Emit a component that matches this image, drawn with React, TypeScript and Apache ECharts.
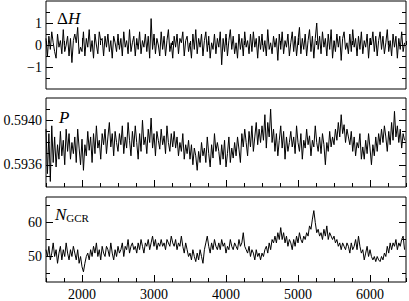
import React, { useEffect, useRef } from 'react';
import * as echarts from 'echarts';

const dayStart = 1500;
const dayStep = 20;

const deltaH = [
  0.3, -0.5, 0.4, -0.2, 0.6, 0.1, -0.3, -0.6, 0.5, -0.1,
  0.2, -0.4, 0.7, -0.3, 0.0, 0.4, -0.5, 0.3, -0.8, 0.2,
  0.5, 0.1, 0.8, -0.4, -0.1, -0.3, 0.6, -0.5, 0.3, -0.1,
  0.7, -0.3, 0.2, -0.6, 0.5, 0.0, -0.4, 0.6, 0.2, 0.3,
  -0.5, 0.4, -0.1, 0.5, -0.3, 0.2, -0.6, 0.4, 0.1, -0.3,
  0.5, -0.2, 0.3, -0.5, 0.6, -0.1, 0.2, -0.4, 0.7, -0.3,
  0.1, 0.4, -0.5, 0.3, -0.2, 0.6, -0.4, 0.2, -0.1, 0.5,
  -0.3, 0.4, -0.6, 1.2, -0.2, 0.5, -0.4, 0.3, 0.0, -0.5,
  0.6, -0.2, 0.4, -0.5, 0.2, 0.7, -0.3, 0.1, -0.6, 0.4,
  -0.1, 0.5, -0.4, 0.3, 0.1, 0.6, -0.5, 0.2, 0.4, -0.3,
  0.1, -0.6, 0.5, -0.2, 0.7, -0.4, 0.3, -0.1, 0.5, -0.5,
  0.2, 0.6, -0.3, 0.4, -0.6, 0.1, -0.2, 0.5, -0.4, 0.3,
  -0.1, 0.6, -0.9, 0.3, -0.3, 0.5, -0.5, 0.2, 0.7, -0.2,
  0.4, -0.4, 0.1, -0.6, 0.5, -0.2, 0.3, -0.5, 0.6, -0.1,
  0.2, -0.4, 0.5, -0.3, 0.6, -0.1, 0.3, -0.6, 0.4, -0.2,
  0.5, -0.3, 0.2, -0.5, 0.7, -0.2, 0.1, -0.4, 0.4, -0.1,
  0.3, -0.7, 0.5, -0.2, 0.6, -0.4, 0.2, -0.1, 0.5, -0.5,
  0.1, 0.6, -0.3, 0.4, -0.5, 0.2, 0.8, -0.4, 0.3, -0.2,
  0.5, -0.5, 0.2, 0.7, -0.3, 0.4, -0.6, 0.3, 1.0, -0.2,
  0.4, -0.4, 0.6, -0.1, 0.3, -0.5, 0.5, -0.2, 0.7, -0.6,
  0.2, -0.3, 0.5, -0.1, 0.4, -0.7, 0.3, 0.6, -0.2, 0.1,
  -0.4, 0.5, -0.3, 0.7, -0.1, 0.3, -0.5, 0.4, -0.2, 0.6,
  -0.4, 0.2, -0.1, 0.5, -0.6, 0.3, 0.0, 0.6, -0.3, 0.4,
  -0.5, 0.2, 0.6, -0.2, 0.4, -0.4, 0.1, 0.7, -0.3, 0.2,
  -0.5, 0.5, -0.1, 0.4, -0.6, 0.3, -0.2, 0.6, -0.3, 0.1,
];

const pValues = [
  0.59392, 0.59352, 0.59388, 0.59345, 0.59395, 0.59362, 0.59385, 0.59358, 0.59378, 0.59365,
  0.5939, 0.59368, 0.59382, 0.5936, 0.59392, 0.59372, 0.59388, 0.59365, 0.5938, 0.5937,
  0.59385, 0.59362, 0.59392, 0.59375, 0.5936, 0.59383, 0.59355, 0.59378, 0.59368, 0.5939,
  0.59373, 0.59385, 0.59362, 0.59388, 0.5937, 0.59395, 0.59375, 0.59382, 0.59365, 0.59388,
  0.59378, 0.59392, 0.5937, 0.59385, 0.59398, 0.59376, 0.59388, 0.59368, 0.5939, 0.5938,
  0.59372, 0.59388, 0.59378, 0.59395, 0.5937, 0.59385, 0.59375, 0.59398, 0.59382, 0.59368,
  0.5939, 0.59376, 0.59395, 0.5938, 0.59365, 0.59388, 0.59372, 0.594, 0.59378, 0.59385,
  0.5937, 0.59392, 0.5938, 0.59402, 0.59375, 0.59388, 0.59368, 0.5939, 0.59382, 0.59374,
  0.59392, 0.59378, 0.59386, 0.5937, 0.59395, 0.5938, 0.59372, 0.59388, 0.59376, 0.5939,
  0.59375, 0.59385, 0.59368, 0.5938, 0.59372, 0.59388, 0.59365, 0.59378, 0.5937, 0.59382,
  0.59365, 0.59378, 0.5936, 0.59375, 0.59368, 0.59355, 0.59372, 0.59362, 0.5938, 0.59368,
  0.59375, 0.59362, 0.59385, 0.5937, 0.59358, 0.59378, 0.59366, 0.59388, 0.59372, 0.5938,
  0.59372, 0.5936, 0.59378, 0.59365, 0.59382, 0.59358, 0.5937, 0.59385, 0.59362, 0.59375,
  0.59366, 0.5938, 0.59368, 0.59385, 0.59374, 0.59362, 0.59388, 0.59376, 0.59392, 0.5938,
  0.59368, 0.5939, 0.59376, 0.59395, 0.59372, 0.59385, 0.59398, 0.59378, 0.59392, 0.5938,
  0.59395, 0.59382, 0.59405, 0.59375, 0.59398, 0.59385, 0.5941, 0.5938, 0.59392, 0.59372,
  0.59388, 0.59368, 0.59382, 0.59395, 0.59375, 0.5939, 0.59365, 0.59385, 0.59372, 0.5938,
  0.5939, 0.59376, 0.59385, 0.5937, 0.59395, 0.5938, 0.59372, 0.59388, 0.59365, 0.59382,
  0.59375, 0.59392, 0.59378, 0.59386, 0.59368, 0.59382, 0.59376, 0.59395, 0.5938, 0.59372,
  0.59385, 0.5937, 0.59388, 0.59378, 0.5936, 0.5938, 0.59372, 0.5939, 0.59376, 0.59385,
  0.59378, 0.59392, 0.59382, 0.59398, 0.59385, 0.59405, 0.59388, 0.59396, 0.5938, 0.59392,
  0.59385, 0.59378, 0.5939, 0.59372, 0.59385, 0.59368, 0.5938, 0.59375, 0.59388, 0.59365,
  0.59376, 0.59365, 0.59382, 0.5937, 0.59388, 0.59375, 0.5936, 0.59378, 0.59368, 0.59385,
  0.59372, 0.59388, 0.59378, 0.59392, 0.5938, 0.59395, 0.59385, 0.59372, 0.5939, 0.59378,
  0.59398, 0.59382, 0.59408, 0.59385, 0.59395, 0.5938, 0.59392, 0.59375, 0.59388, 0.59382,
];

const nGcr = [
  52, 50, 53, 49, 51, 54, 50, 52, 48, 51,
  53, 49, 52, 50, 54, 51, 49, 52, 50, 53,
  51, 49, 52, 48, 50, 47, 45.5, 48, 50, 51,
  49, 52, 50, 53, 51, 54, 50, 52, 49, 53,
  51, 50, 53, 52, 50, 54, 51, 49, 52, 50,
  53, 51, 52, 54, 50, 53, 52, 55, 51, 53,
  54, 52, 53, 51, 54, 52, 55, 53, 51, 54,
  53, 55, 52, 54, 56, 53, 55, 52, 54, 53,
  55, 53, 54, 52, 55, 54, 53, 56, 54, 53,
  55, 52, 54, 53, 56, 53, 51, 54, 52, 50,
  51, 49, 52, 50, 48.5, 51, 49, 52, 50, 48,
  52, 54, 56, 53, 51, 54, 52, 55, 53, 52,
  54, 52, 55, 53, 54, 51, 53, 52, 55, 53,
  52, 54, 53, 52, 55, 53, 54, 57, 53, 52,
  51, 53, 50, 52, 51, 49, 52, 50, 51, 49,
  51, 50, 52, 53, 51, 54, 52, 55, 54, 56,
  54, 57, 55, 58.5, 55, 57, 54, 56, 53, 55,
  54, 52, 55, 53, 56, 54, 57, 55, 54, 56,
  55, 57, 56, 59, 58, 61, 63.5, 60, 57, 58,
  56, 57, 55, 58, 56, 59, 55, 57, 56, 55,
  56, 54, 55, 53, 54, 52, 54, 53, 52, 54,
  53, 51, 54, 52, 53, 55, 52, 56, 53, 51,
  52, 49, 51, 53, 50, 52, 50, 49, 50, 48.5,
  50, 49, 48.5, 50, 49, 51, 50, 53, 51, 54,
  52, 54, 53, 55, 52, 54, 53, 55, 56, 52,
];

const xMajorTicks = [2000, 3000, 4000, 5000, 6000];
const xMinorTicks = [
  1500, 1750, 2000, 2250, 2500, 2750, 3000, 3250, 3500, 3750, 4000,
  4250, 4500, 4750, 5000, 5250, 5500, 5750, 6000, 6250, 6500,
];
const hMajor = [-1, 0, 1];
const hMinor = [-1.5, -0.5, 0.5, 1.5];
const pMajor = [0.5936, 0.594];
const pMinor = [0.5935, 0.5937, 0.5938, 0.5939, 0.5941];
const nMajor = [50, 60];
const nMinor = [45, 55, 65];

const FONT = 'Liberation Serif';

export default function App() {
  const ref = useRef<HTMLDivElement>(null);
  useEffect(() => {
    if (!ref.current) return;
    const chart = echarts.init(ref.current, undefined, { renderer: 'svg' });

    const grids = [
      { left: 46, right: 3, top: 1, height: 88 },
      { left: 46, right: 3, top: 98, height: 89 },
      { left: 46, right: 3, top: 197, height: 89 },
    ].map((g) => ({ ...g, show: true, borderColor: '#000', borderWidth: 1, backgroundColor: 'transparent' }));

    const xAxes: any[] = [];
    for (let i = 0; i < 3; i++) {
      xAxes.push({
        type: 'value', gridIndex: i, min: 1500, max: 6500, position: 'bottom',
        axisLine: { show: false }, splitLine: { show: false },
        axisTick: { show: true, inside: true, length: 7, customValues: xMajorTicks, lineStyle: { color: '#000', width: 1 } },
        axisLabel: {
          show: i === 2, customValues: xMajorTicks, margin: 5,
          fontFamily: FONT, fontSize: 14, color: '#000',
          formatter: (v: number) => String(v),
        },
      });
      xAxes.push({
        type: 'value', gridIndex: i, min: 1500, max: 6500, position: 'bottom',
        axisLine: { show: false }, splitLine: { show: false },
        axisTick: { show: true, inside: true, length: 4, customValues: xMinorTicks, lineStyle: { color: '#000', width: 1 } },
        axisLabel: { show: false },
      });
    }

    const yDefs = [
      { min: -2, max: 2, major: hMajor, minor: hMinor, fmt: (v: number) => (v < 0 ? '\u2212' + Math.abs(v) : String(v)) },
      { min: 0.5934, max: 0.5942, major: pMajor, minor: pMinor, fmt: (v: number) => v.toFixed(4) },
      { min: 42.5, max: 67.5, major: nMajor, minor: nMinor, fmt: (v: number) => String(v) },
    ];
    const yAxes: any[] = [];
    yDefs.forEach((d, i) => {
      (['left', 'right'] as const).forEach((pos) => {
        yAxes.push({
          type: 'value', gridIndex: i, min: d.min, max: d.max, position: pos,
          axisLine: { show: false }, splitLine: { show: false },
          axisTick: { show: true, inside: true, length: 7, customValues: d.major, lineStyle: { color: '#000', width: 1 } },
          axisLabel: {
            show: pos === 'left', customValues: d.major, margin: 4,
            fontFamily: FONT, fontSize: 14, color: '#000', formatter: d.fmt,
          },
        });
        yAxes.push({
          type: 'value', gridIndex: i, min: d.min, max: d.max, position: pos,
          axisLine: { show: false }, splitLine: { show: false },
          axisTick: { show: true, inside: true, length: 4, customValues: d.minor, lineStyle: { color: '#000', width: 1 } },
          axisLabel: { show: false },
        });
      });
    });

    const seriesData = [deltaH, pValues, nGcr];
    const series = seriesData.map((arr, i) => ({
      type: 'line',
      xAxisIndex: i * 2,
      yAxisIndex: i * 4,
      data: arr.map((v, k) => [dayStart + k * dayStep, v]),
      showSymbol: false,
      symbol: 'none',
      lineStyle: { color: '#000', width: 1 },
      clip: true,
    }));

    chart.setOption({
      animation: false,
      backgroundColor: '#fff',
      textStyle: { fontFamily: FONT },
      grid: grids,
      xAxis: xAxes,
      yAxis: yAxes,
      series,
      graphic: [
        {
          type: 'text', x: 57, y: 18,
          style: {
            text: '{a|\u0394}{b|H}', verticalAlign: 'middle',
            rich: {
              a: { fontFamily: FONT, fontSize: 17, fill: '#000' },
              b: { fontFamily: FONT, fontSize: 17, fontStyle: 'italic', fill: '#000' },
            },
          },
        },
        {
          type: 'text', x: 59, y: 117,
          style: { text: 'P', verticalAlign: 'middle', fontFamily: FONT, fontSize: 17, fontStyle: 'italic', fill: '#000' },
        },
        {
          type: 'text', x: 55, y: 214,
          style: {
            text: '{a|N}{b|GCR}', verticalAlign: 'middle',
            rich: {
              a: { fontFamily: FONT, fontSize: 17, fontStyle: 'italic', fill: '#000', verticalAlign: 'bottom' },
              b: { fontFamily: FONT, fontSize: 11, fill: '#000', verticalAlign: 'bottom', padding: [0, 0, -1, 0] },
            },
          },
        },
      ],
    });
    return () => chart.dispose();
  }, []);
  return <div ref={ref} style={{ position: 'fixed', left: 0, top: 0, width: 409, height: 301, background: '#fff' }} />;
}
